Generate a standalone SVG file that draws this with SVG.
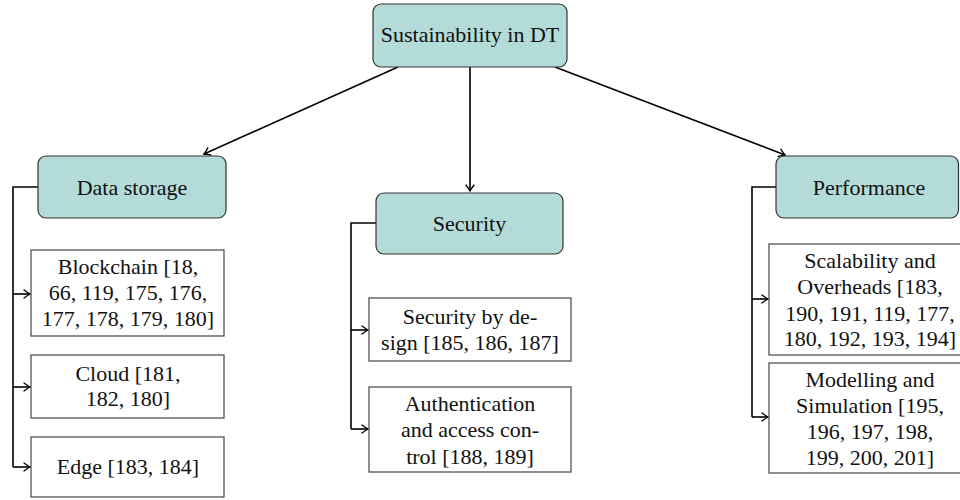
<svg xmlns="http://www.w3.org/2000/svg" width="960" height="500" viewBox="0 0 960 500">
<defs>
<marker id="arr" viewBox="-7 -5 9 10" markerWidth="9" markerHeight="10" refX="0" refY="0" orient="auto" markerUnits="userSpaceOnUse">
<path d="M-6,-4 Q-2,-1 0,0 Q-2,1 -6,4" fill="none" stroke="#000" stroke-width="1.3" stroke-linecap="round"/>
</marker>
</defs>
<style>
.hd{fill:#b3dbd8;stroke:#333;stroke-width:1.2}
.bx{fill:#fff;stroke:#444;stroke-width:1.2}
.t{font-family:'Liberation Serif','Times New Roman',Times,serif;font-size:22px;fill:#111;text-anchor:middle;dominant-baseline:central}
.c{fill:none;stroke:#000;stroke-width:1.6}
</style>
<g id="connectors">
<path class="c" d="M398,67 L204,154" marker-end="url(#arr)"/>
<path class="c" d="M470,67 L470,191" marker-end="url(#arr)"/>
<path class="c" d="M555,67 L785,155" marker-end="url(#arr)"/>
<path class="c" d="M38,187 L13,187 L13,467"/>
<path class="c" d="M13,294 L30,294" marker-end="url(#arr)"/>
<path class="c" d="M13,387 L30,387" marker-end="url(#arr)"/>
<path class="c" d="M13,467 L30,467" marker-end="url(#arr)"/>
<path class="c" d="M376,223 L351,223 L351,429"/>
<path class="c" d="M351,330 L368,330" marker-end="url(#arr)"/>
<path class="c" d="M351,429 L368,429" marker-end="url(#arr)"/>
<path class="c" d="M776,187 L752,187 L752,417"/>
<path class="c" d="M752,299 L768,299" marker-end="url(#arr)"/>
<path class="c" d="M752,417 L768,417" marker-end="url(#arr)"/>
</g>
<g class="t" font-family="Liberation Serif, serif">
<g id="root">
<rect class="hd" x="373" y="4" width="194" height="63" rx="8"/>
<text x="470" y="34">Sustainability in DT</text>
</g>
<g id="data-storage">
<rect class="hd" x="38" y="156" width="188" height="62" rx="8"/>
<text x="132" y="187">Data storage</text>
</g>
<g id="security">
<rect class="hd" x="376" y="193" width="187" height="61" rx="8"/>
<text x="469.5" y="223">Security</text>
</g>
<g id="performance">
<rect class="hd" x="776" y="156" width="182.5" height="62" rx="8"/>
<text x="869" y="187">Performance</text>
</g>
<g id="blockchain">
<rect class="bx" x="31" y="250" width="193" height="86"/>
<text x="128" y="266">Blockchain [18,</text>
<text x="128" y="292">66, 119, 175, 176,</text>
<text x="128" y="318">177, 178, 179, 180]</text>
</g>
<g id="cloud">
<rect class="bx" x="31" y="355" width="193" height="63"/>
<text x="128" y="373">Cloud [181,</text>
<text x="128" y="398">182, 180]</text>
</g>
<g id="edge">
<rect class="bx" x="31" y="437" width="193" height="60"/>
<text x="128" y="466">Edge [183, 184]</text>
</g>
<g id="security-by-design">
<rect class="bx" x="369" y="298" width="202" height="63"/>
<text x="470" y="316">Security by de-</text>
<text x="470" y="342">sign [185, 186, 187]</text>
</g>
<g id="authentication">
<rect class="bx" x="369" y="387" width="202" height="85"/>
<text x="470" y="403">Authentication</text>
<text x="470" y="429">and access con-</text>
<text x="470" y="456">trol [188, 189]</text>
</g>
<g id="scalability">
<rect class="bx" x="769" y="244" width="202" height="111"/>
<text x="870" y="260">Scalability and</text>
<text x="870" y="286">Overheads [183,</text>
<text x="870" y="313">190, 191, 119, 177,</text>
<text x="870" y="338">180, 192, 193, 194]</text>
</g>
<g id="modelling">
<rect class="bx" x="769" y="363" width="202" height="110"/>
<text x="870" y="379">Modelling and</text>
<text x="870" y="405">Simulation [195,</text>
<text x="870" y="431">196, 197, 198,</text>
<text x="870" y="457">199, 200, 201]</text>
</g>
</g>
</svg>
